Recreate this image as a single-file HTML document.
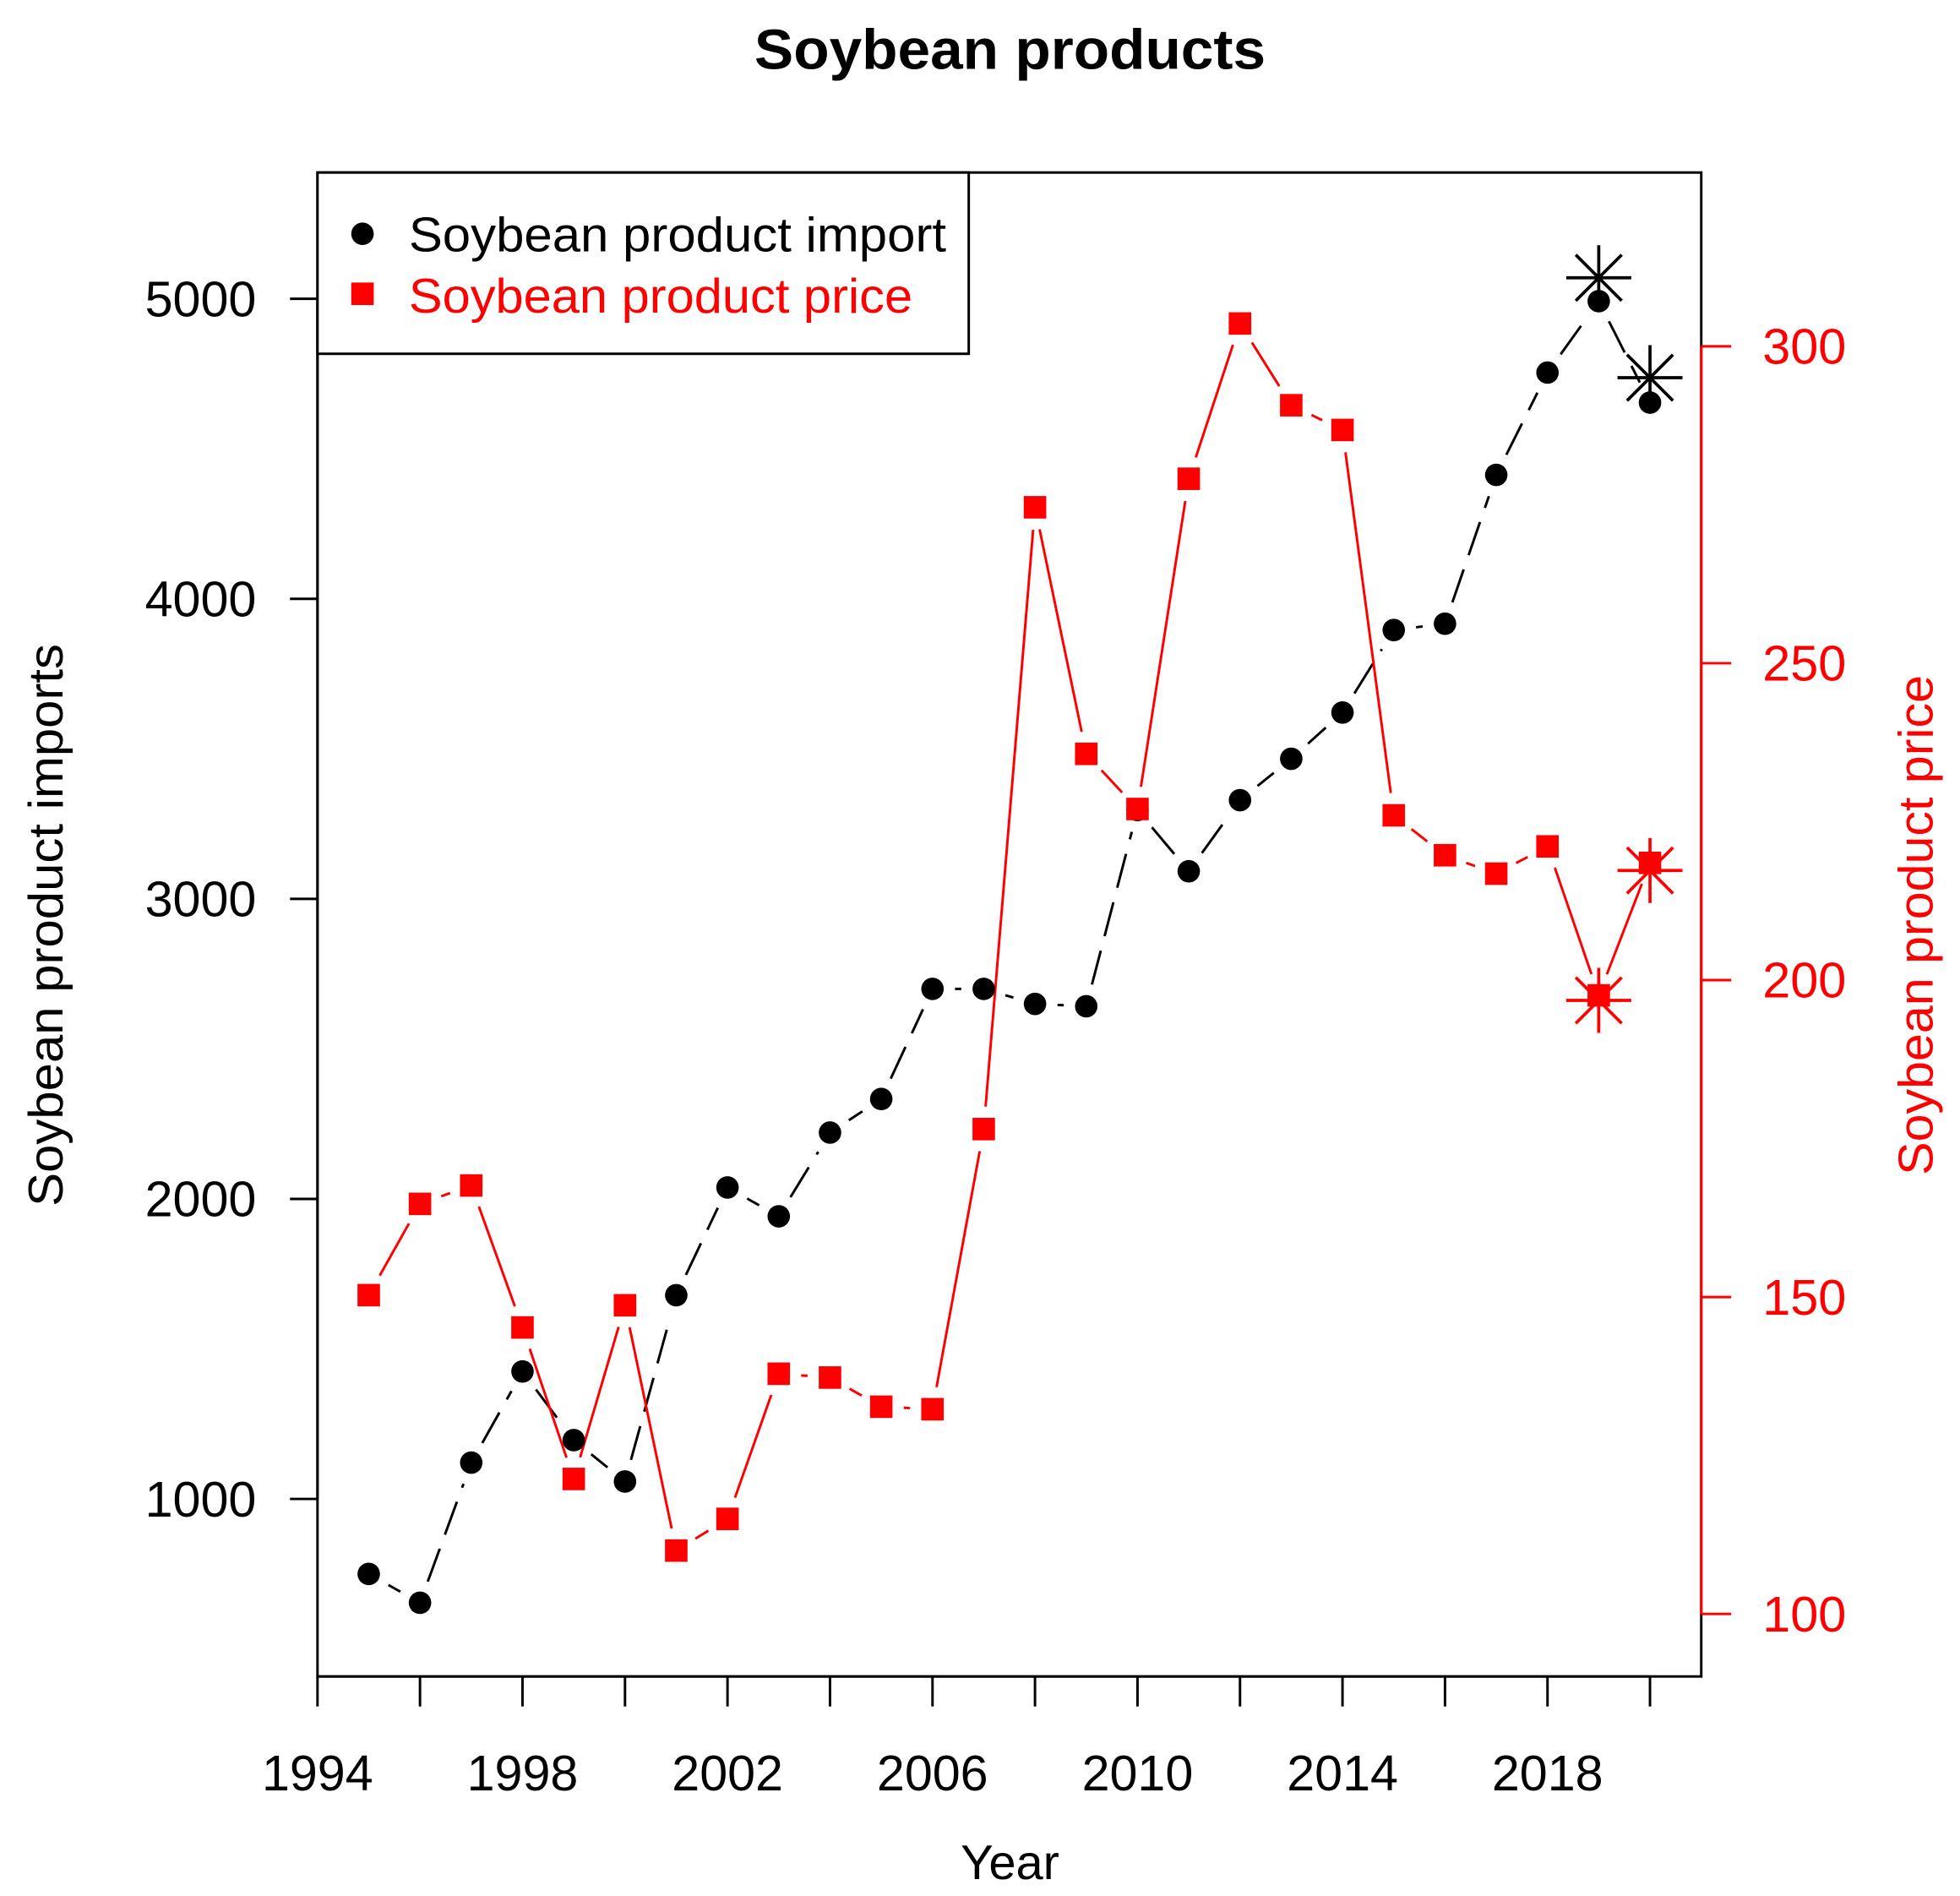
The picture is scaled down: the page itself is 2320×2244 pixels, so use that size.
<!DOCTYPE html>
<html><head><meta charset="utf-8"><style>
html,body{margin:0;padding:0;background:#fff;}
svg{display:block;font-family:"Liberation Sans",sans-serif;}
</style></head><body>
<svg id="chart" width="2320" height="2244" viewBox="0 0 1568 1516.6" preserveAspectRatio="none" xmlns="http://www.w3.org/2000/svg">
<rect width="1568" height="1516.6" fill="#fff"/>
<text x="808" y="55" text-anchor="middle" font-size="45" font-weight="bold" textLength="409" lengthAdjust="spacingAndGlyphs">Soybean products</text>
<rect x="254" y="138" width="1107" height="1203" fill="none" stroke="#000" stroke-width="2"/>
<g id="axes"></g>
<g id="marks"></g>
<g>
<rect x="254" y="138" width="521" height="145" fill="#fff" stroke="#000" stroke-width="2"/>
<circle cx="290" cy="187" r="9" fill="#000"/>
<text x="327" y="201" font-size="39" textLength="430" lengthAdjust="spacingAndGlyphs">Soybean product import</text>
<rect x="281" y="226" width="18" height="18" fill="#f00"/>
<text x="327" y="250" font-size="39" fill="#f00" textLength="403" lengthAdjust="spacingAndGlyphs">Soybean product price</text>
</g>
<text x="808" y="1503" text-anchor="middle" font-size="39" textLength="79" lengthAdjust="spacingAndGlyphs">Year</text>
<text transform="translate(50,740) rotate(-90)" text-anchor="middle" font-size="39" textLength="450" lengthAdjust="spacingAndGlyphs">Soybean product imports</text>
<text transform="translate(1546,740) rotate(-90)" text-anchor="middle" font-size="39" fill="#f00" textLength="400" lengthAdjust="spacingAndGlyphs">Soybean product price</text>
</svg>
<script>
const years = [1995,1996,1997,1998,1999,2000,2001,2002,2003,2004,2005,2006,2007,2008,2009,2010,2011,2012,2013,2014,2015,2016,2017,2018,2019,2020];
const imports = [750,654,1121,1425,1196,1058,1679,2038,1942,2221,2333,2700,2700,2650,2642,3296,3092,3329,3467,3621,3896,3917,4413,4754,4992,4654];
const prices = [150.3,164.7,167.6,145.2,121.3,148.7,110.0,115.0,137.9,137.3,132.7,132.3,176.5,274.6,235.7,227.0,279.1,303.6,290.7,286.8,226.0,219.7,216.8,221.1,197.6,218.5];
const forecastYears = [2019,2020];
const forecastImports = [5070,4737];
const forecastPrices = [196.8,217.3];
const xTicks = [1994,1996,1998,2000,2002,2004,2006,2008,2010,2012,2014,2016,2018,2020];
const xTickLabels = [1994,1998,2002,2006,2010,2014,2018];
const leftTicks = [1000,2000,3000,4000,5000];
const rightTicks = [100,150,200,250,300];

const X = v => 254 + (v - 1994) * 41;
const YL = v => 1199 - (v - 1000) * 0.24;
const YR = v => 1291 - (v - 100) * 5.07;
const NS = "http://www.w3.org/2000/svg";
const axes = document.getElementById('axes');
const marks = document.getElementById('marks');
function mk(tag, attrs, parent) {
  const e = document.createElementNS(NS, tag);
  for (const k in attrs) e.setAttribute(k, attrs[k]);
  parent.appendChild(e);
  return e;
}
mk('line',{x1:X(1994),x2:X(2020),y1:1341,y2:1341,stroke:'#000','stroke-width':2},axes);
xTicks.forEach(t=>{
  const l = mk('line',{x1:X(t),x2:X(t),y1:1341,y2:1365,stroke:'#000','stroke-width':2},axes);
  
  
});
xTickLabels.forEach(t=>{
  const tx = mk('text',{x:X(t),y:1432,'text-anchor':'middle','font-size':40,textLength:89,lengthAdjust:'spacingAndGlyphs'},axes);
  tx.textContent = t;
  
  
});
mk('line',{x1:254,x2:254,y1:YL(1000),y2:YL(5000),stroke:'#000','stroke-width':2},axes);
leftTicks.forEach(t=>{
  const l = mk('line',{x1:232,x2:254,y1:YL(t),y2:YL(t),stroke:'#000','stroke-width':2},axes);
  
  
  const tx = mk('text',{x:205,y:YL(t)+14,'text-anchor':'end','font-size':40,textLength:89,lengthAdjust:'spacingAndGlyphs'},axes);
  tx.textContent = t;
  
  
});
mk('line',{x1:1361,x2:1361,y1:YR(100),y2:YR(300),stroke:'#f00','stroke-width':2},axes);
rightTicks.forEach(t=>{
  const l = mk('line',{x1:1361,x2:1385,y1:YR(t),y2:YR(t),stroke:'#f00','stroke-width':2},axes);
  
  
  const tx = mk('text',{x:1410,y:YR(t)+14,'font-size':40,fill:'#f00',textLength:67,lengthAdjust:'spacingAndGlyphs'},axes);
  tx.textContent = t;
  
  
});
function gapLines(xs, ys, color, dash, name) {
  for (let i=0;i<xs.length-1;i++){
    const x1=xs[i],y1=ys[i],x2=xs[i+1],y2=ys[i+1];
    const d=Math.hypot(x2-x1,y2-y1), g=18;
    if (d<=2*g) continue;
    const ux=(x2-x1)/d, uy=(y2-y1)/d;
    const l = mk('line',{x1:x1+ux*g,y1:y1+uy*g,x2:x2-ux*g,y2:y2-uy*g,stroke:color,'stroke-width':2,'stroke-dasharray':dash},marks);
    
    
  }
}
const xs = years.map(X);
gapLines(xs, imports.map(YL), '#000', '28,12', 'import-line');
gapLines(xs, prices.map(YR), '#f00', 'none', 'price-line');
years.forEach((y,i)=>{
  const c = mk('circle',{cx:X(y),cy:YL(imports[i]),r:9,fill:'#000'},marks);
  
  
  const r = mk('rect',{x:X(y)-9,y:YR(prices[i])-9,width:18,height:18,fill:'#f00'},marks);
  
  
});
function star(cx, cy, color, name){
  const g = mk('g',{stroke:color,'stroke-width':2.5},marks);
  
  
  const r=26, d=r*0.707;
  mk('line',{x1:cx-r,x2:cx+r,y1:cy,y2:cy},g);
  mk('line',{x1:cx,x2:cx,y1:cy-r,y2:cy+r},g);
  mk('line',{x1:cx-d,x2:cx+d,y1:cy-d,y2:cy+d},g);
  mk('line',{x1:cx-d,x2:cx+d,y1:cy+d,y2:cy-d},g);
}
forecastYears.forEach((y,i)=>{
  star(X(y), YL(forecastImports[i]), '#000', 'import-forecast-star');
  star(X(y), YR(forecastPrices[i]), '#f00', 'price-forecast-star');
});
</script>
</body></html>
